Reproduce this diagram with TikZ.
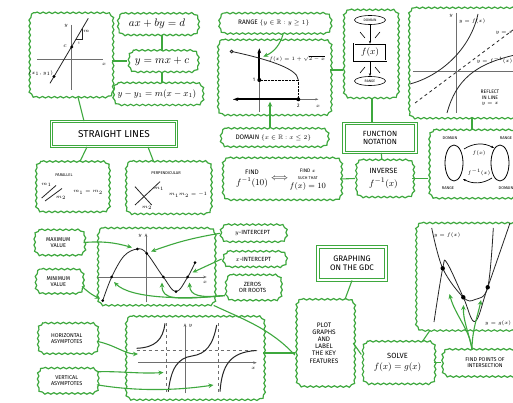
\documentclass[tikz,border=0pt]{standalone}
\usepackage{fontspec}
\usepackage{amssymb}
\setmainfont{Fira Sans}
\usetikzlibrary{decorations.pathmorphing,arrows.meta,shapes.geometric}
\definecolor{grn}{RGB}{62,168,62}
\definecolor{axc}{RGB}{110,110,110}
\tikzset{
 fs/.style={font=\linespread{1.1}\fontsize{#1}{#1}\selectfont},
 cloudline/.style={draw=grn, line width=1.2pt, decorate, decoration={snake,amplitude=.75pt,segment length=6pt}},
 cloudbox/.style={align=center, inner sep=1pt, fs=6,
   append after command={\pgfextra{\draw[cloudline]
     ([xshift=7pt]\tikzlastnode.north west) -- ([xshift=-7pt]\tikzlastnode.north east)
     arc[start angle=90,end angle=0,radius=7pt] -- ([yshift=7pt]\tikzlastnode.south east)
     arc[start angle=0,end angle=-90,radius=7pt] -- ([xshift=7pt]\tikzlastnode.south west)
     arc[start angle=270,end angle=180,radius=7pt] -- ([yshift=-7pt]\tikzlastnode.north west)
     arc[start angle=180,end angle=90,radius=7pt] -- cycle;}}},
 dblbox/.style={draw=grn, line width=.9pt, double=white, double distance=1.5pt, fill=white, align=center, inner sep=1pt, fs=9},
 conn/.style={draw=grn, line width=1.1pt},
 garrow/.style={draw=grn, line width=1.1pt, -{Stealth[length=5pt,width=4.5pt]}},
 ax/.style={draw=axc, line width=.9pt},
 crv/.style={draw=black!85, line width=.8pt},
 lbl/.style={inner sep=0, align=center},
}
\begin{document}
\begin{tikzpicture}[x=1pt,y=-1pt]
\useasboundingbox (0,0) rectangle (513,403);
\fill[white] (0,0) rectangle (513,403);
\clip (0,0) rectangle (513,403);

% ---------------- top-left: straight lines ----------------
\node[cloudbox, minimum width=83pt, minimum height=84pt] (ga) at (70,55) {};
\draw[ax] (37.3,59.3) -- (103.3,59.3);
\draw[ax] (71,25) -- (71,90);
\node[lbl,fs=5] (a1) at (66,26) {$y$};
\node[lbl,fs=5] (a2) at (104,64) {$x$};
\draw[crv] (50,83.3) -- (88.3,18.3);
\fill (71.7,47) circle[radius=1.6pt];
\node[lbl,fs=6] (a3) at (65,46) {$c$};
\fill (54,76.5) circle[radius=1.6pt];
\node[lbl,fs=4.5] (a4) at (41,73) {$(x_1,y_1)$};
\draw[crv, line width=.5pt] (76,39.2) -- (82,39.2) -- (82,29);
\node[lbl,fs=3.5] (a5) at (79,43) {1};
\node[lbl,fs=4.5] (a6) at (86.5,31) {$m$};

\node[cloudbox, fs=11, minimum width=80pt, minimum height=21pt] (axby) at (157,24) {$ax+by=d$};
\node[cloudbox, fs=11, minimum width=69pt, minimum height=21pt] (ymx) at (162,61) {$y=mx+c$};
\node[cloudbox, fs=9, minimum width=89pt, minimum height=22pt] (yy1) at (157,94) {$y-y_1=m(x-x_1)$};
\node[dblbox, fs=10, minimum width=125pt, minimum height=25pt] (sl) at (114,134) {STRAIGHT LINES};

\node[cloudbox, minimum width=73pt, minimum height=50pt] (par) at (71.5,186.7) {};
\node[lbl,fs=4] (p1) at (64,175) {PARALLEL};
\draw[crv] (41.7,198) -- (56,185.5);
\draw[crv] (45,201) -- (62,188.5);
\node[lbl,fs=3.5] (p2) at (46.5,185) {$m_1$};
\node[lbl,fs=3.5] (p3) at (61,198) {$m_2$};
\node[lbl,fs=4.5] (p4) at (88,192.5) {$m_1=m_2$};

\node[cloudbox, minimum width=85pt, minimum height=52pt] (perp) at (167.5,187.5) {};
\node[lbl,fs=4] (q1) at (166,173) {PERPENDICULAR};
\draw[crv] (135,186.7) -- (151.7,205);
\draw[crv] (135,205) -- (160,181.7);
\node[lbl,fs=3.5] (q2) at (159,189) {$m_1$};
\node[lbl,fs=3.5] (q3) at (147,208) {$m_2$};
\node[lbl,fs=4.5] (q4) at (188,195) {$m_1m_2=-1$};

\draw[conn] ([xshift=8pt]ga.south) -- ([xshift=-30pt]sl.north);
\draw[conn] (ga.east |- ymx.west) -- (ymx.west);
\draw[conn] (axby.south -| ymx.north) -- (ymx.north);
\draw[conn] (ymx.south) -- (yy1.north -| ymx.south);
\draw[conn] ([xshift=-27pt]sl.south) -- ([xshift=8.5pt]par.north);
\draw[conn] ([xshift=34pt]sl.south) -- ([xshift=-14pt]perp.north);

% ---------------- domain & range ----------------
\node[cloudbox, fs=6.5, minimum width=111pt, minimum height=20pt] (rng) at (273.8,23.3) {RANGE $\{y\in\mathbb{R}: y\geq 1\}$};
\node[cloudbox, minimum width=113pt, minimum height=75pt] (gb) at (273.3,77.5) {};
\node[cloudbox, fs=6.5, minimum width=107pt, minimum height=18pt] (dom) at (273.3,137.5) {DOMAIN $\{x\in\mathbb{R}: x\leq 2\}$};
\draw[ax, line width=.6pt, -{Stealth[length=3pt]}] (233.3,99.3) -- (318.3,99.3);
\draw[ax] (259.3,111.7) -- (259.3,80);
\draw[line width=2pt, -{Stealth[length=5pt]}] (259.3,80) -- (259.3,48.3);
\draw[line width=2pt, -{Stealth[length=5pt]}] (298.3,99.3) -- (233.3,99.3);
\draw[crv] plot[domain=-1.42:2, samples=40, variable=\t] ({259.3+19.5*\t},{99.3-19.3*(1+0.8*sqrt(abs(2-\t)))});
\draw[crv, fill=white] (231.6,51.5) circle[radius=1.4pt];
\draw[densely dotted] (259.3,80) -- (298.3,80) -- (298.3,99.3);
\fill (259.3,80) circle[radius=2pt];
\fill (298.3,99.3) circle[radius=2pt];
\node[lbl,fs=5] (b1) at (254,80) {1};
\node[lbl,fs=5] (b2) at (298.3,106) {2};
\node[lbl,fs=5] (b3) at (318,106) {$x$};
\node[lbl,fs=5] (b4) at (297,59) {$f(x)=1+\sqrt{2-x}$};
\coordinate (rngtip) at (263.3,56.7);
\coordinate (domtip) at (270,101.7);
\draw[garrow] ([xshift=9.5pt]rng.south) to[bend left=25] (rngtip);
\draw[garrow] ([xshift=-3.3pt]dom.north) -- (domtip);

% ---------------- function machine ----------------
\node[cloudbox, minimum width=54pt, minimum height=88pt] (gc) at (370,54) {};
\node[draw, ellipse, line width=.6pt, minimum width=31pt, minimum height=9pt, inner sep=0, fs=3.5] (cdom) at (370,20) {DOMAIN};
\node[draw, double, double distance=1pt, line width=.5pt, minimum width=32pt, minimum height=17pt, inner sep=0, fs=9] (cfx) at (370,52.5) {$f(x)$};
\node[draw, ellipse, line width=.6pt, minimum width=31pt, minimum height=9pt, inner sep=0, fs=3.5] (crng) at (370,81) {RANGE};
\draw[line width=.6pt, -{Stealth[length=3pt]}] (cdom) -- (cfx);
\draw[line width=.6pt, -{Stealth[length=3pt]}] (cfx) -- (crng);
\draw[line width=.6pt] (360,32) -- (365,38) (380,32) -- (375,38) (360,73) -- (365,67) (380,73) -- (375,67);
\draw[conn] ([yshift=7.5pt]gb.east) -- ([yshift=-16pt]gc.west);

\node[dblbox, fs=7.5, minimum width=72pt, minimum height=29pt] (fn) at (380,138) {FUNCTION\\NOTATION};
\draw[conn] ([xshift=2pt]gc.south) -- ([xshift=-8pt]fn.north);

% ---------------- reflection graph ----------------
\node[cloudbox, minimum width=116pt, minimum height=110pt] (gd) at (466,63) {};
\draw[ax] (456.7,13) -- (456.7,113);
\draw[ax] (413,71.7) -- (515,71.7);
\draw[crv, dashed] (415,103) -- (515,28.5);
\draw[crv] (410,84) .. controls (440,76) and (470,50) .. (478,14);
\draw[crv] (447,113) .. controls (456,80) and (475,64) .. (515,55);
\node[lbl,fs=5] (d1) at (451,16) {$y$};
\node[lbl,fs=5] (d2) at (472,21) {$y=f(x)$};
\node[lbl,fs=5] (d3) at (504,33) {$y=x$};
\node[lbl,fs=4.5,anchor=east] (d4) at (512.5,60) {$y=f^{-1}(x)$};
\node[lbl,fs=5] (d5) at (490,98) {REFLECT\\IN LINE\\$y=x$};

\node[cloudbox, fs=7.5, minimum width=57pt, minimum height=37pt] (inv) at (383.5,178.5) {INVERSE\\[4pt]{\fontsize{9.5}{9.5}\selectfont$f^{-1}(x)$}};
\node[cloudbox, minimum width=88pt, minimum height=68pt] (ge) at (472,164) {};
\draw[line width=.8pt] (454,163) ellipse[x radius=9pt, y radius=18pt];
\draw[line width=.8pt] (500,163) ellipse[x radius=9pt, y radius=18pt];
\node[lbl,fs=4] (e1) at (450,138.5) {DOMAIN};
\node[lbl,fs=4] (e2) at (506,138.5) {RANGE};
\node[lbl,fs=4] (e3) at (448,188) {RANGE};
\node[lbl,fs=4] (e4) at (506,188.5) {DOMAIN};
\draw[line width=.7pt, -{Stealth[length=3pt]}] (464,149) to[bend left=30] (494,148);
\draw[line width=.7pt, -{Stealth[length=3pt]}] (492,178) to[bend left=30] (463,179);
\node[lbl,fs=5] (e5) at (479,153) {$f(x)$};
\node[lbl,fs=5] (e6) at (479,172) {$f^{-1}(x)$};

\node[cloudbox, minimum width=118pt, minimum height=42pt] (fnd) at (281,179) {%
 \begin{tabular}{@{}c@{}}{\fontsize{6.5}{6.5}\selectfont FIND}\\[1pt]{\fontsize{9}{9}\selectfont$f^{-1}(10)$}\end{tabular}
 \ {\fontsize{9}{9}\selectfont$\Longleftrightarrow$}\ 
 \begin{tabular}{@{}c@{}}{\fontsize{5}{5}\selectfont FIND $x$}\\{\fontsize{4}{4}\selectfont SUCH THAT}\\[1pt]{\fontsize{8.5}{8.5}\selectfont$f(x)=10$}\end{tabular}};

\draw[conn] (fn) -- (inv);
\draw[conn] (fnd.east) -- (inv.west);
\draw[conn] (inv.east) -- (inv.east -| ge.west);
\draw[conn] (gd.south -| ge.north) -- (ge.north);

% ---------------- bottom-left: key features ----------------
\node[cloudbox, fs=5.5, minimum width=50pt, minimum height=25pt] (mx) at (58.3,242.5) {MAXIMUM\\VALUE};
\node[cloudbox, fs=5.5, minimum width=47pt, minimum height=24pt] (mn) at (58.3,281.3) {MINIMUM\\VALUE};
\node[cloudbox, minimum width=117pt, minimum height=77pt] (gf) at (155,266.7) {};
\draw[ax, -{Stealth[length=3.5pt]}] (146,302.3) -- (146,233.3);
\draw[ax, -{Stealth[length=3.5pt]}] (98.3,277) -- (206.7,277);
\node[lbl,fs=5.5] (f1) at (140,236) {$y$};
\node[lbl,fs=5.5] (f2) at (205,282) {$x$};
\draw[crv] plot[smooth, tension=0.6] coordinates {(102.7,300.7) (111.7,277) (124,256) (137.3,249) (146.7,253.3) (163.3,277) (176,291.7) (187.7,277) (195,262.7)};
\foreach \p in {(102.7,300.7),(111.7,277),(137.3,249),(146.7,253.3),(163.3,277),(176,291.7),(187.7,277),(195,262.7)} \fill \p circle[radius=1.5pt];

\node[cloudbox, fs=6, minimum width=65pt, minimum height=17pt] (yi) at (252.5,233.3) {$y$-INTERCEPT};
\node[cloudbox, fs=6, minimum width=63pt, minimum height=15pt] (xi) at (253.3,259) {$x$-INTERCEPT};
\node[cloudbox, fs=6, minimum width=55pt, minimum height=25pt] (zr) at (252.5,287.5) {ZEROS\\OR ROOTS};

\coordinate (maxtip) at (132,247.5);
\coordinate (mintip) at (100,298.5);
\coordinate (yitip) at (151,251.5);
\coordinate (xitip) at (192.5,272.5);
\coordinate (z1tip) at (114,282);
\coordinate (z2tip) at (162,282.5);
\coordinate (z3tip) at (189.5,282.5);
\draw[garrow] (mx.east) to[bend left=10] (maxtip);
\draw[garrow] ([yshift=-5pt]mn.east) to[bend right=10] (mintip);
\draw[garrow] (yi.west) to[bend right=5] (yitip);
\draw[garrow] (xi.west) -- (xitip);
\draw[garrow] ([yshift=-8pt]zr.west) .. controls (180,300) and (130,298) .. (z1tip);
\draw[garrow] ([yshift=-8pt]zr.west) .. controls (175,300) and (162,300) .. (z2tip);
\draw[garrow] ([yshift=-8pt]zr.west) .. controls (200,298) and (190,296) .. (z3tip);

% ---------------- asymptotes ----------------
\node[cloudbox, fs=5.5, minimum width=60pt, minimum height=30pt] (hor) at (66.7,338.3) {HORIZONTAL\\ASYMPTOTES};
\node[cloudbox, fs=5.5, minimum width=60pt, minimum height=25pt] (ver) at (66.7,380.8) {VERTICAL\\ASYMPTOTES};
\node[cloudbox, minimum width=138pt, minimum height=83pt] (gg) at (194,358) {};
\draw[ax, -{Stealth[length=3.5pt]}] (185,393.3) -- (185,323.3);
\draw[ax, -{Stealth[length=3.5pt]}] (138.3,362.7) -- (256.7,362.7);
\node[lbl,fs=5.5] (g1) at (190.5,326) {$y$};
\node[lbl,fs=5.5] (g2) at (253.3,368.5) {$x$};
\draw[axc, dashed, line width=.7pt] (136.7,350) -- (256.7,350);
\draw[axc, dashed, line width=.7pt] (166.7,323.3) -- (166.7,393.3);
\draw[axc, dashed, line width=.7pt] (218.3,323.3) -- (218.3,393.3);
\draw[crv, line width=1pt] (136.7,348.3) .. controls (155,347.5) and (163,340) .. (165,323.3);
\draw[crv, line width=1pt] (168.3,391.7) .. controls (171,368) and (178,358) .. (192,356) .. controls (206,354) and (213,345) .. (216.7,325);
\draw[crv, line width=1pt] (220,391.7) .. controls (222,365) and (230,352) .. (256.7,350.5);
\coordinate (hortip) at (138,354);
\coordinate (v1tip) at (163.5,372.5);
\coordinate (v2tip) at (213.5,385);
\draw[garrow] ([yshift=-3pt]hor.east) .. controls (115,345) and (125,354) .. (hortip);
\draw[garrow] ([yshift=9pt]ver.east) .. controls (120,371) and (140,374) .. (v1tip);
\draw[garrow] ([yshift=-4pt]ver.east) .. controls (140,392) and (180,390) .. (v2tip);

% ---------------- graphing on the GDC ----------------
\node[dblbox, fs=8, minimum width=68pt, minimum height=33pt] (gdc) at (352,263.5) {GRAPHING\\ON THE GDC};
\node[cloudbox, fs=6.5, minimum width=58pt, minimum height=87pt] (plt) at (324,343) {PLOT\\GRAPHS\\AND\\LABEL\\THE KEY\\FEATURES};
\node[cloudbox, fs=7.5, minimum width=72pt, minimum height=42pt] (slv) at (397.5,362.5) {SOLVE\\[2pt]{\fontsize{9}{9}\selectfont$f(x)=g(x)$}};
\node[cloudbox, fs=5.5, minimum width=88pt, minimum height=27pt] (fp) at (485,363) {FIND POINTS OF\\INTERSECTION};
\node[cloudbox, minimum width=110pt, minimum height=107pt] (gh) at (470,276.7) {};
\draw[crv] plot[smooth, tension=0.6] coordinates {(431.7,228) (442.7,268.3) (463.3,297.3) (475,299.5) (487.7,287.3) (493.3,228)};
\draw[crv] plot[smooth, tension=0.6] coordinates {(434,322) (442.7,268.3) (447,263) (463.3,297.3) (475,321.5) (487.7,287.3) (510,223)};
\fill (442.7,268.3) circle[radius=2.2pt];
\fill (463.3,297.3) circle[radius=2.2pt];
\fill (487.7,287.3) circle[radius=2.2pt];
\node[lbl,fs=5] (h1) at (447,235) {$y=f(x)$};
\node[lbl,fs=5] (h2) at (498,323) {$y=g(x)$};
\coordinate (h1tip) at (449.5,294);
\coordinate (h2tip) at (463.5,305);
\coordinate (h3tip) at (481,300);
\draw[garrow] ([xshift=-13pt]fp.north) .. controls (470,330) and (455,315) .. (h1tip);
\draw[garrow] ([xshift=-13pt]fp.north) .. controls (468,330) and (463,320) .. (h2tip);
\draw[garrow] ([xshift=-13pt]fp.north) .. controls (472,330) and (478,315) .. (h3tip);

\draw[conn] (gdc.south) -- ([xshift=21pt]plt.north);
\draw[conn] (plt.east) -- ([yshift=8pt]slv.west);
\draw[conn] (slv.east) -- (slv.east -| fp.west);
\draw[conn] ([xshift=25pt]slv.north) -- ([xshift=-40pt]gh.south);
\draw[conn] ([yshift=5pt]gg.east) -- ([yshift=-10pt]plt.west);
\draw[conn] (gf.south east) .. controls (240,318) and (270,328) .. ([yshift=-12pt]plt.west);
\end{tikzpicture}
\end{document}
